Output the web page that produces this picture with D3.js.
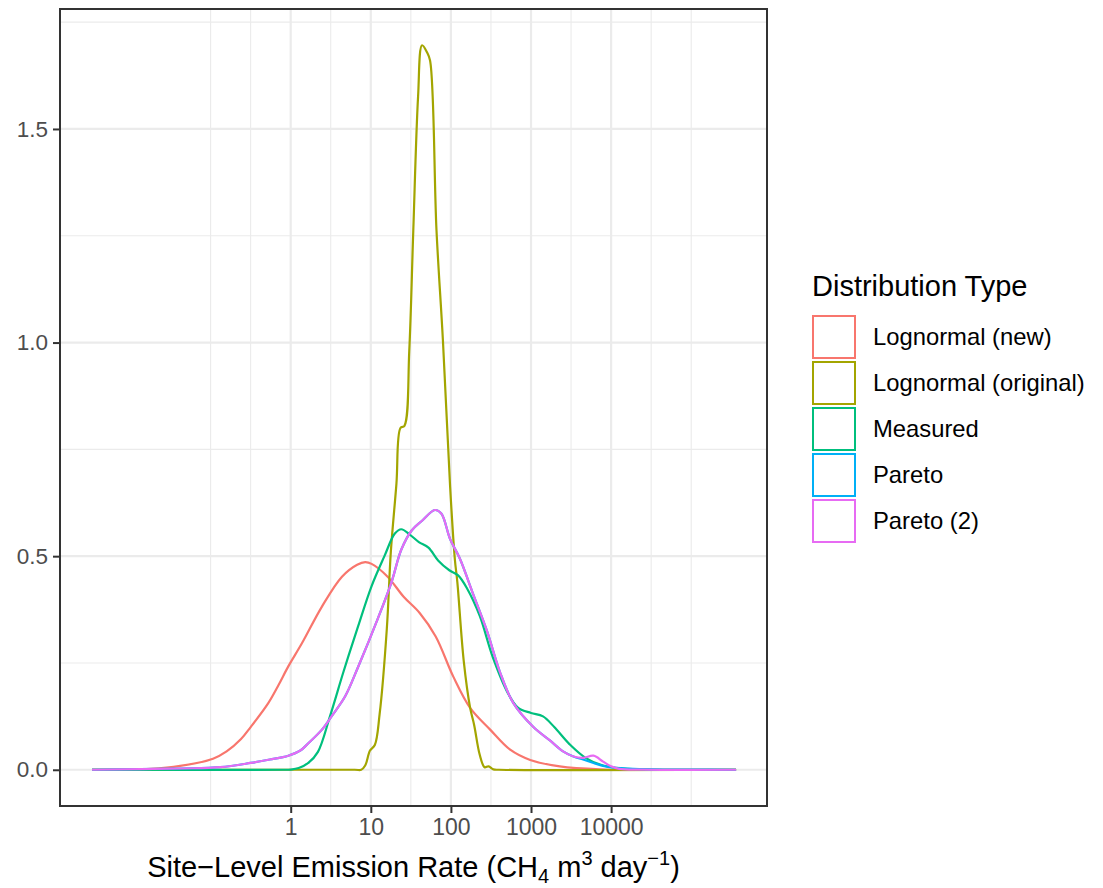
<!DOCTYPE html>
<html>
<head>
<meta charset="utf-8">
<script src="https://cdn.jsdelivr.net/npm/d3@7"></script>
<style>
  html, body { margin: 0; padding: 0; background: #ffffff; }
  svg { display: block; font-family: "Liberation Sans", Arial, Helvetica, sans-serif; }
</style>
</head>
<body>
<svg id="chart" width="1103" height="888"></svg>
<script>
// Kernel density of site-level emission rates, one curve per distribution type.
// Rates are stored as log10 values; densities are on the log10 scale.

const seriesNames = ["Lognormal (new)", "Lognormal (original)", "Measured", "Pareto", "Pareto (2)"];
const seriesColors = ["#F8766D", "#A3A500", "#00BF7D", "#00B0F6", "#E76BF3"];

const lognormalNewLog = [-2.48, -1.75, -1.38, -0.97, -0.80, -0.62, -0.50, -0.28, -0.15, -0.03, 0.14, 0.39, 0.64, 0.83, 0.93, 1.01, 1.21, 1.41, 1.61, 1.81, 2.03, 2.24, 2.49, 2.74, 2.99, 3.36, 3.86, 4.5, 5.56];
const lognormalNewDensity = [0, 0.002, 0.009, 0.026, 0.043, 0.072, 0.100, 0.156, 0.199, 0.242, 0.296, 0.382, 0.452, 0.48, 0.486, 0.482, 0.452, 0.405, 0.367, 0.312, 0.218, 0.145, 0.094, 0.047, 0.023, 0.008, 0.001, 0, 0];

const lognormalOrigLog = [-2.48, 0.80, 0.88, 0.93, 0.99, 1.05, 1.11, 1.20, 1.25, 1.32, 1.37, 1.42, 1.48, 1.53, 1.59, 1.64, 1.70, 1.74, 1.82, 1.90, 1.99, 2.05, 2.08, 2.16, 2.24, 2.29, 2.36, 2.42, 2.47, 2.53, 2.60, 5.56];
const lognormalOrigDensity = [0, 0, 0, 0.01, 0.045, 0.058, 0.13, 0.33, 0.51, 0.67, 0.80, 0.805, 0.98, 1.26, 1.575, 1.696, 1.68, 1.66, 1.263, 1.006, 0.663, 0.491, 0.44, 0.255, 0.145, 0.105, 0.035, 0.006, 0.008, 0.001, 0, 0];

const measuredLog = [-2.48, -0.10, 0.0, 0.10, 0.22, 0.34, 0.49, 0.66, 0.84, 1.01, 1.17, 1.30, 1.38, 1.49, 1.60, 1.72, 1.84, 1.98, 2.09, 2.20, 2.36, 2.52, 2.71, 2.84, 3.00, 3.15, 3.29, 3.48, 3.68, 3.90, 4.15, 4.5, 5.56];
const measuredDensity = [0, 0, 0.0005, 0.004, 0.016, 0.042, 0.125, 0.23, 0.335, 0.43, 0.50, 0.553, 0.563, 0.550, 0.533, 0.52, 0.49, 0.467, 0.455, 0.425, 0.36, 0.265, 0.18, 0.145, 0.133, 0.125, 0.10, 0.06, 0.028, 0.01, 0.003, 0.0005, 0];

const paretoLog = [-2.48, -1.38, -0.88, -0.50, -0.26, -0.03, 0.12, 0.22, 0.39, 0.51, 0.68, 0.84, 1.09, 1.26, 1.38, 1.51, 1.64, 1.80, 1.88, 1.99, 2.11, 2.28, 2.45, 2.61, 2.78, 3.03, 3.24, 3.40, 3.53, 3.65, 3.78, 3.90, 4.03, 4.2, 4.5, 5.0, 5.56];
const paretoDensity = [0, 0.003, 0.006, 0.016, 0.024, 0.033, 0.045, 0.062, 0.094, 0.125, 0.172, 0.24, 0.355, 0.44, 0.515, 0.56, 0.583, 0.608, 0.60, 0.54, 0.495, 0.41, 0.325, 0.23, 0.156, 0.10, 0.068, 0.043, 0.031, 0.024, 0.016, 0.009, 0.005, 0.003, 0.001, 0.0003, 0];

const pareto2Log = [-2.48, -1.38, -0.88, -0.50, -0.26, -0.03, 0.12, 0.22, 0.39, 0.51, 0.68, 0.84, 1.09, 1.26, 1.38, 1.51, 1.64, 1.80, 1.88, 1.99, 2.11, 2.28, 2.45, 2.61, 2.78, 3.03, 3.24, 3.40, 3.53, 3.65, 3.78, 3.90, 4.00, 4.10, 4.4, 5.56];
const pareto2Density = [0, 0.003, 0.006, 0.016, 0.024, 0.033, 0.045, 0.062, 0.094, 0.125, 0.172, 0.24, 0.355, 0.44, 0.515, 0.56, 0.583, 0.608, 0.60, 0.54, 0.495, 0.41, 0.325, 0.23, 0.156, 0.10, 0.068, 0.043, 0.031, 0.028, 0.033, 0.019, 0.008, 0.002, 0.0003, 0];

const xTickValues = [1, 10, 100, 1000, 10000];
const xTickLabels = ["1", "10", "100", "1000", "10000"];
const xMinorValues = [0.1, 0.316, 3.16, 31.6, 316, 3162, 31623, 100000];
const yTickValues = [0, 0.5, 1.0, 1.5];
const yTickLabels = ["0.0", "0.5", "1.0", "1.5"];
const yMinorValues = [0.25, 0.75, 1.25, 1.75];

const seriesLog = [lognormalNewLog, lognormalOrigLog, measuredLog, paretoLog, pareto2Log];
const seriesDensity = [lognormalNewDensity, lognormalOrigDensity, measuredDensity, paretoDensity, pareto2Density];

const series = seriesNames.map((name, i) => ({
  name,
  color: seriesColors[i],
  points: seriesLog[i].map((e, j) => ({ rate: Math.pow(10, e), density: seriesDensity[i][j] }))
}));

// Panel geometry
const panel = { left: 60, right: 767, top: 9, bottom: 806 };

const x = d3.scaleLog()
  .domain([Math.pow(10, -2.880), Math.pow(10, 5.946)])
  .range([panel.left, panel.right]);

const y = d3.scaleLinear()
  .domain([-0.0848, 1.7808])
  .range([panel.bottom, panel.top]);

const svg = d3.select("#chart");

svg.append("rect")
  .attr("x", panel.left).attr("y", panel.top)
  .attr("width", panel.right - panel.left).attr("height", panel.bottom - panel.top)
  .attr("fill", "#ffffff");

const grid = svg.append("g");

// Minor grid
grid.selectAll(".vminor").data(xMinorValues).join("line")
  .attr("x1", d => x(d)).attr("x2", d => x(d))
  .attr("y1", panel.top).attr("y2", panel.bottom)
  .attr("stroke", "#EBEBEB").attr("stroke-width", 1.1);
grid.selectAll(".hminor").data(yMinorValues).join("line")
  .attr("x1", panel.left).attr("x2", panel.right)
  .attr("y1", d => y(d)).attr("y2", d => y(d))
  .attr("stroke", "#EBEBEB").attr("stroke-width", 1.1);

// Major grid
grid.selectAll(".vmajor").data(xTickValues).join("line")
  .attr("x1", d => x(d)).attr("x2", d => x(d))
  .attr("y1", panel.top).attr("y2", panel.bottom)
  .attr("stroke", "#EBEBEB").attr("stroke-width", 2.2);
grid.selectAll(".hmajor").data(yTickValues).join("line")
  .attr("x1", panel.left).attr("x2", panel.right)
  .attr("y1", d => y(d)).attr("y2", d => y(d))
  .attr("stroke", "#EBEBEB").attr("stroke-width", 2.2);

// Density curves
const line = d3.line()
  .x(d => x(d.rate))
  .y(d => y(Math.max(0, d.density)))
  .curve(d3.curveCatmullRom.alpha(0.5));

svg.append("g")
  .selectAll("path").data(series).join("path")
  .attr("d", d => line(d.points))
  .attr("fill", "none")
  .attr("stroke", d => d.color)
  .attr("stroke-width", 2.2)
  .attr("stroke-linejoin", "round");

// Panel border
svg.append("rect")
  .attr("x", panel.left).attr("y", panel.top)
  .attr("width", panel.right - panel.left).attr("height", panel.bottom - panel.top)
  .attr("fill", "none").attr("stroke", "#333333").attr("stroke-width", 2);

// Axes
const xAxis = d3.axisBottom(x)
  .tickValues(xTickValues)
  .tickFormat((d, i) => xTickLabels[i])
  .tickSize(7).tickPadding(6);
const gx = svg.append("g").attr("transform", `translate(0,${panel.bottom})`).call(xAxis);
gx.select(".domain").remove();
gx.selectAll(".tick line").attr("stroke", "#333333").attr("stroke-width", 2);
gx.selectAll(".tick text").attr("fill", "#4D4D4D").attr("font-size", 23)
  .attr("font-family", "Liberation Sans, Arial, sans-serif");

const yAxis = d3.axisLeft(y)
  .tickValues(yTickValues)
  .tickFormat((d, i) => yTickLabels[i])
  .tickSize(7).tickPadding(5);
const gy = svg.append("g").attr("transform", `translate(${panel.left},0)`).call(yAxis);
gy.select(".domain").remove();
gy.selectAll(".tick line").attr("stroke", "#333333").attr("stroke-width", 2);
gy.selectAll(".tick text").attr("fill", "#4D4D4D").attr("font-size", 22.5)
  .attr("font-family", "Liberation Sans, Arial, sans-serif");

// X axis title with chemical subscript and unit superscripts
const title = svg.append("text")
  .attr("x", (panel.left + panel.right) / 2)
  .attr("y", 877)
  .attr("text-anchor", "middle")
  .attr("font-size", 29)
  .attr("fill", "#000000");
title.append("tspan").text("Site\u2212Level Emission Rate (CH");
title.append("tspan").text("4").attr("font-size", 20).attr("dy", 6);
title.append("tspan").text(" m").attr("dy", -6);
title.append("tspan").text("3").attr("font-size", 20).attr("dy", -12);
title.append("tspan").text(" day").attr("dy", 12);
title.append("tspan").text("\u22121").attr("font-size", 20).attr("dy", -12);
title.append("tspan").text(")").attr("dy", 12);

// Legend
const legend = svg.append("g").attr("transform", "translate(812,0)");
legend.append("text")
  .attr("x", 0).attr("y", 296)
  .attr("font-size", 29)
  .attr("fill", "#000000")
  .text("Distribution Type");

const keys = legend.selectAll(".key").data(series).join("g")
  .attr("transform", (d, i) => `translate(0,${315 + i * 46})`);
keys.append("rect")
  .attr("x", 1).attr("y", 1).attr("width", 42).attr("height", 42)
  .attr("fill", "#ffffff")
  .attr("stroke", d => d.color).attr("stroke-width", 2);
keys.append("text")
  .attr("x", 61).attr("y", 22)
  .attr("dy", "0.35em")
  .attr("font-size", 23.8)
  .attr("fill", "#000000")
  .text(d => d.name);
</script>
</body>
</html>
